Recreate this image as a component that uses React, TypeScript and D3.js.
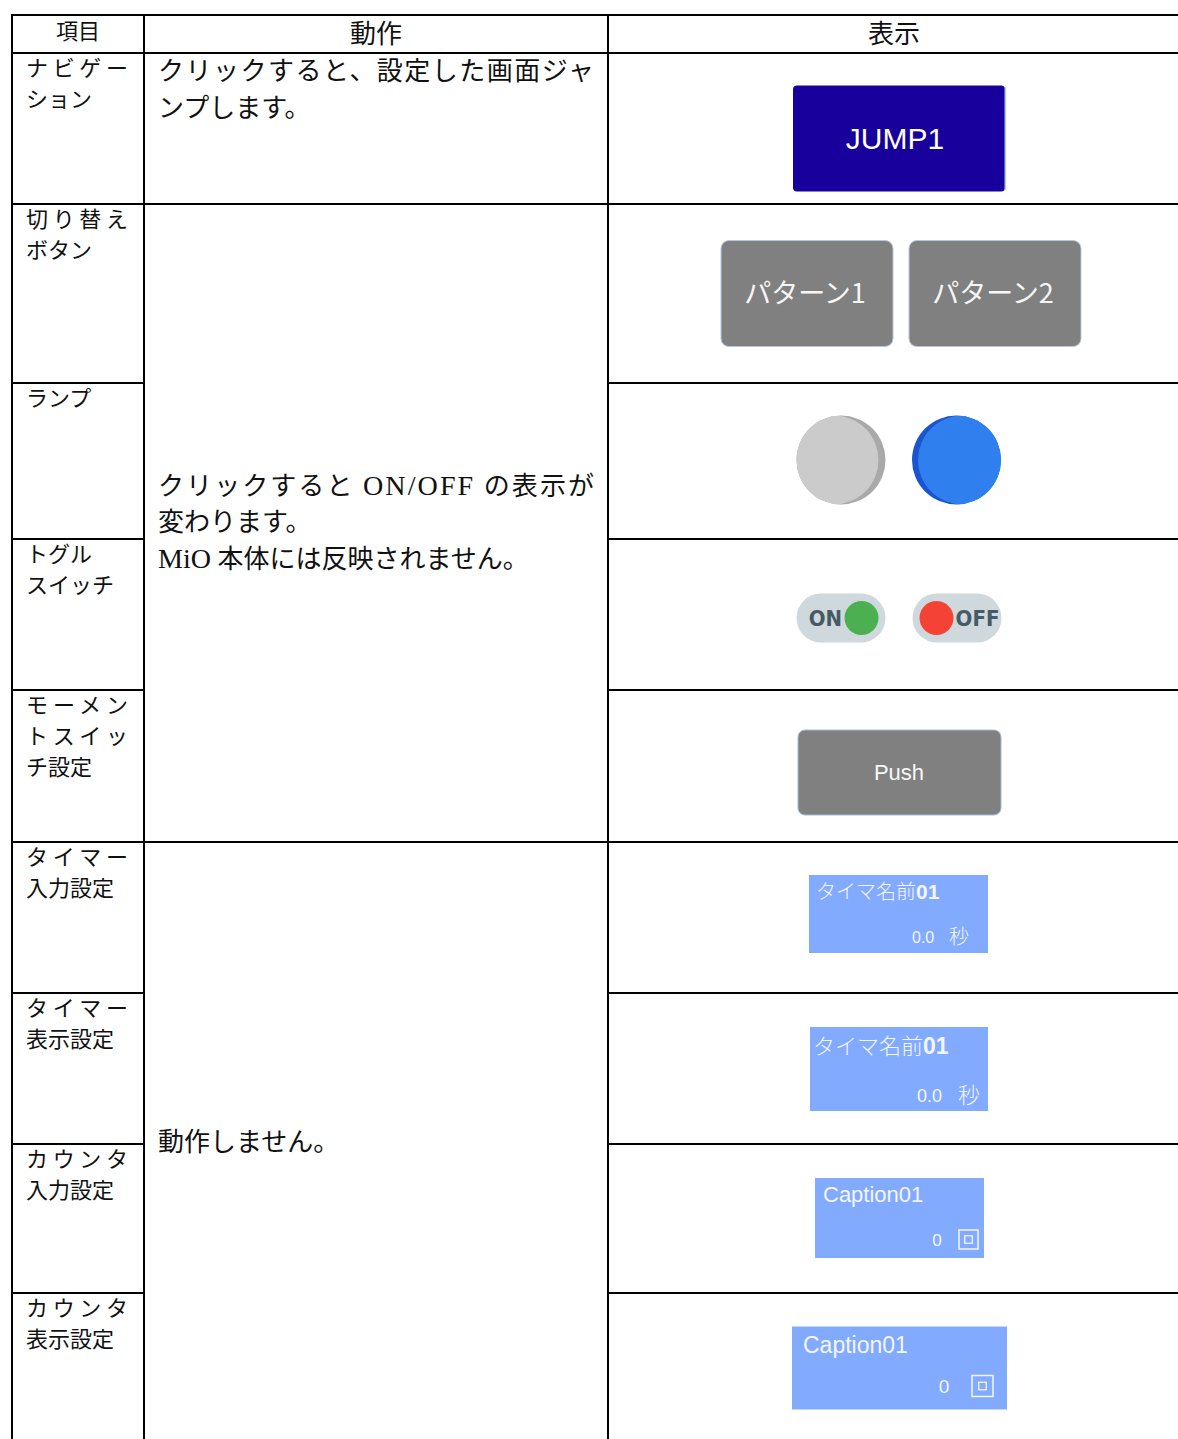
import React from "react";
import * as d3 from "d3";

// table content
const HEADERS = ["項目", "動作", "表示"];

const ITEM_LINES = [
  ["ナビゲー", "ション"],
  ["切り替え", "ボタン"],
  ["ランプ"],
  ["トグル", "スイッチ"],
  ["モーメン", "トスイッ", "チ設定"],
  ["タイマー", "入力設定"],
  ["タイマー", "表示設定"],
  ["カウンタ", "入力設定"],
  ["カウンタ", "表示設定"],
];
// lines that Word spread over the whole cell width
const ITEM_SPREAD = [
  [true, false],
  [true, false],
  [false],
  [false, false],
  [true, true, false],
  [true, false],
  [true, false],
  [true, false],
  [true, false],
];

const ACTION_GROUPS = [
  { from: 0, to: 1, valign: "top", lines: ["クリックすると、設定した画面ジャ", "ンプします。"], spread: [true, false] },
  {
    from: 1,
    to: 5,
    valign: "middle",
    lines: ["クリックすると ON/OFF の表示が", "変わります。", "MiO 本体には反映されません。"],
    spread: [true, false, false],
  },
  { from: 5, to: 9, valign: "middle", lines: ["動作しません。"], spread: [false] },
];

const WIDGET_KINDS = ["jump", "switch", "lamp", "toggle", "push", "timerIn", "timerOut", "counterIn", "counterOut"];
const SWITCH_LABELS = ["パターン1", "パターン2"];
const TIMER_NAME = "タイマ名前";
const TIMER_NO = "01";
const TIMER_VALUE = "0.0";
const TIMER_UNIT = "秒";
const COUNTER_CAPTION = "Caption01";
const COUNTER_VALUE = "0";

// layout
const W = 1178;
const H = 1439;
const COL_EDGES = [12, 144, 608, 1180];
const HEADER_TOP = 15;
const ROW_HEIGHTS = [38, 151, 179, 156, 151, 152, 151, 151, 149, 151];

const JP = "'Liberation Serif', 'Noto Sans CJK JP', serif";
const SANS = "'Liberation Sans', Arial, 'Noto Sans CJK JP', sans-serif";
const CJK_SANS = "'Noto Sans CJK JP', 'Liberation Sans', sans-serif";

const edges = Array.from(d3.cumsum([HEADER_TOP, ...ROW_HEIGHTS]));
const headerBottom = edges[1];
const rowEdges = edges.slice(1); // top of body rows + bottom of last one
const bands = d3.pairs(rowEdges);

const midCol = new Set<number>();
ACTION_GROUPS.forEach((g) => d3.range(g.from + 1, g.to).forEach((i) => midCol.add(i)));

const BLUE_BOX = "#82aaff";
const BOX_TEXT = "#f3f6ff";

function Widget({ kind, cx, cy }: { kind: string; cx: number; cy: number }) {
  if (kind === "jump") {
    const w = 212, h = 106, y = cy + 10;
    return (
      <g>
        <rect x={cx - w / 2} y={y - h / 2} width={w} height={h} rx={4} fill="#17009c" />
        <line x1={cx + w / 2} x2={cx + w / 2} y1={y - h / 2 + 2} y2={y + h / 2 - 2} stroke="#7fa6ff" strokeWidth={1.2} />
        <text x={cx - 4} y={y} dy="0.36em" textAnchor="middle" fontFamily={SANS} fontSize={30} fill="#ffffff">
          JUMP1
        </text>
      </g>
    );
  }
  if (kind === "switch") {
    const w = 172, h = 106, gap = 16;
    const xs = d3.range(SWITCH_LABELS.length).map((i) => cx + 2 - (w * 2 + gap) / 2 + i * (w + gap));
    return (
      <g>
        {SWITCH_LABELS.map((lab, i) => (
          <g key={lab}>
            <rect x={xs[i]} y={cy - h / 2} width={w} height={h} rx={8} fill="#808080" stroke="#b9c6dd" strokeWidth={1} />
            <text
              x={xs[i] + w / 2 - 2}
              y={cy}
              dy="0.36em"
              textAnchor="middle"
              fontFamily={CJK_SANS}
              fontSize={27}
              fill="#f6f6f6"
            >
              {lab}
            </text>
          </g>
        ))}
      </g>
    );
  }
  if (kind === "lamp") {
    const r = 44.5, y = cy - 1;
    return (
      <g>
        <defs>
          <clipPath id="lampA">
            <circle cx={cx - 58} cy={y} r={r} />
          </clipPath>
          <clipPath id="lampB">
            <circle cx={cx + 57.5} cy={y} r={r} />
          </clipPath>
        </defs>
        <circle cx={cx - 58} cy={y} r={r} fill="#a9a9a9" />
        <circle cx={cx - 65} cy={y} r={r} fill="#cbcbcb" clipPath="url(#lampA)" />
        <circle cx={cx + 57.5} cy={y} r={r} fill="#1a55cf" />
        <circle cx={cx + 63.5} cy={y} r={r} fill="#2f7fef" clipPath="url(#lampB)" />
      </g>
    );
  }
  if (kind === "toggle") {
    const w = 89, h = 49, y = cy + 3.5;
    const onX = cx - 58 - w / 2, offX = cx + 58 - w / 2;
    const lbl = { fontFamily: "'DejaVu Sans Condensed', 'DejaVu Sans', sans-serif", fontWeight: 700, fontSize: 22, fill: "#455a64" };
    return (
      <g>
        <rect x={onX} y={y - h / 2} width={w} height={h} rx={h / 2} fill="#cfd8dc" />
        <circle cx={onX + w - 24} cy={y} r={17} fill="#4caf50" />
        <text x={onX + 29} y={y} dy="0.36em" textAnchor="middle" {...lbl}>
          ON
        </text>
        <rect x={offX} y={y - h / 2} width={w} height={h} rx={h / 2} fill="#cfd8dc" />
        <circle cx={offX + 24} cy={y} r={17} fill="#f44336" />
        <text x={offX + 65} y={y} dy="0.36em" textAnchor="middle" {...lbl}>
          OFF
        </text>
      </g>
    );
  }
  if (kind === "push") {
    const w = 203, h = 85, y = cy + 6.5;
    return (
      <g>
        <rect x={cx + 0.5 - w / 2} y={y - h / 2} width={w} height={h} rx={7} fill="#808080" stroke="#a7b8dc" strokeWidth={1} />
        <text x={cx} y={y} dy="0.36em" textAnchor="middle" fontFamily={SANS} fontSize={22} fill="#f8f8f8">
          Push
        </text>
      </g>
    );
  }
  if (kind === "timerIn" || kind === "timerOut") {
    const big = kind === "timerOut";
    const w = big ? 178 : 179, h = big ? 84 : 78;
    const x0 = cx - w / 2 + (big ? 0 : -0.5), y0 = cy - h / 2 + (big ? 0.5 : -3.5);
    const nameSize = big ? 22 : 20;
    return (
      <g>
        <rect x={x0} y={y0} width={w} height={h} fill={BLUE_BOX} />
        <text x={x0 + (big ? 3 : 7)} y={y0 + (big ? 27 : 24)} fontFamily={CJK_SANS} fontWeight={300} fontSize={nameSize} fill={BOX_TEXT}>
          {TIMER_NAME}
          <tspan fontFamily={SANS} fontWeight={700} fontSize={nameSize + 1}>
            {TIMER_NO}
          </tspan>
        </text>
        <text x={x0 + (big ? 107 : 103)} y={y0 + (big ? 75 : 68)} fontFamily={SANS} fontSize={big ? 18 : 16} fill={BOX_TEXT}>
          {TIMER_VALUE}
        </text>
        <text x={x0 + (big ? 148 : 140)} y={y0 + (big ? 76 : 69)} fontFamily={CJK_SANS} fontWeight={300} fontSize={big ? 22 : 20} fill={BOX_TEXT}>
          {TIMER_UNIT}
        </text>
      </g>
    );
  }
  // counters
  const big = kind === "counterOut";
  const w = big ? 215 : 169, h = big ? 83 : 80;
  const x0 = cx + 0.5 - w / 2, y0 = cy - h / 2 - 0.5;
  const sq = big ? 21 : 19;
  const sqX = x0 + w - (big ? 35 : 25), sqY = y0 + (big ? 49 : 52);
  const inner = 7.5;
  return (
    <g>
      <rect x={x0} y={y0} width={w} height={h} fill={BLUE_BOX} />
      <text x={x0 + (big ? 11 : 8)} y={y0 + (big ? 26 : 24)} fontFamily={SANS} fontSize={big ? 23 : 22} fill={BOX_TEXT}>
        {COUNTER_CAPTION}
      </text>
      <text x={x0 + (big ? 152 : 122)} y={y0 + (big ? 66 : 68)} textAnchor="middle" fontFamily={SANS} fontSize={big ? 19 : 17} fill={BOX_TEXT}>
        {COUNTER_VALUE}
      </text>
      <rect x={sqX} y={sqY} width={sq} height={sq} fill="none" stroke={BOX_TEXT} strokeWidth={1.5} />
      <rect x={sqX + (sq - inner) / 2} y={sqY + (sq - inner) / 2} width={inner} height={inner} fill="none" stroke={BOX_TEXT} strokeWidth={1.3} />
    </g>
  );
}

// latin runs are set a little larger, like the Century face of the original
function runs(t: string, size: number) {
  return t.split(/([A-Za-z/]+)/).map((part, i) =>
    /[A-Za-z]/.test(part) ? (
      <tspan key={i} fontSize={size * 1.08}>
        {part}
      </tspan>
    ) : (
      part
    )
  );
}

function Lines({
  lines,
  spread,
  x,
  width,
  y0,
  step,
  size,
}: {
  lines: string[];
  spread: boolean[];
  x: number;
  width: number;
  y0: number;
  step: number;
  size: number;
}) {
  return (
    <g>
      {lines.map((t, i) => (
        <text
          key={i}
          x={x}
          y={y0 + i * step}
          dy="0.36em"
          fontFamily={JP}
          fontSize={size}
          fill="#111"
          textLength={spread[i] ? width : undefined}
          lengthAdjust="spacing"
        >
          {runs(t, size)}
        </text>
      ))}
    </g>
  );
}

export default function App() {
  const [c0, c1, c2, c3] = COL_EDGES;
  const lineStyle = { stroke: "#000", strokeWidth: 2 };
  const widgetCx = 899;
  const headMid = (HEADER_TOP + headerBottom) / 2;
  return (
    <svg width={W} height={H} style={{ position: "absolute", left: 0, top: 0, background: "#fff" }}>
      <rect width={W} height={H} fill="#fff" />

      {/* header */}
      <text x={(c0 + c1) / 2} y={headMid - 3} dy="0.36em" textAnchor="middle" fontFamily={JP} fontSize={22} fill="#111">
        {HEADERS[0]}
      </text>
      <text x={(c1 + c2) / 2} y={headMid} dy="0.36em" textAnchor="middle" fontFamily={JP} fontSize={26} fill="#111">
        {HEADERS[1]}
      </text>
      <text x={(c2 + c3) / 2} y={headMid} dy="0.36em" textAnchor="middle" fontFamily={JP} fontSize={26} fill="#111">
        {HEADERS[2]}
      </text>

      {/* item column */}
      {bands.map(([top], i) => (
        <Lines key={i} lines={ITEM_LINES[i]} spread={ITEM_SPREAD[i]} x={26} width={102} y0={top + 15.5} step={31} size={22} />
      ))}

      {/* action column */}
      {ACTION_GROUPS.map((g, i) => {
        const top = rowEdges[g.from];
        const bottom = rowEdges[g.to];
        const step = 36.5;
        const y0 = g.valign === "top" ? top + 18 : (top + bottom) / 2 - ((g.lines.length - 1) * step) / 2 - 1;
        return <Lines key={i} lines={g.lines} spread={g.spread} x={158} width={436} y0={y0} step={step} size={26} />;
      })}

      {/* display column */}
      {bands.map(([top, bottom], i) => (
        <Widget key={i} kind={WIDGET_KINDS[i]} cx={widgetCx} cy={(top + bottom) / 2} />
      ))}

      {/* grid */}
      <line x1={c0} x2={c3} y1={HEADER_TOP} y2={HEADER_TOP} {...lineStyle} />
      <line x1={c0} x2={c3} y1={headerBottom} y2={headerBottom} {...lineStyle} />
      {rowEdges.slice(1, -1).map((y, i) =>
        midCol.has(i + 1) ? (
          <g key={i}>
            <line x1={c0} x2={c1} y1={y} y2={y} {...lineStyle} />
            <line x1={c2} x2={c3} y1={y} y2={y} {...lineStyle} />
          </g>
        ) : (
          <line key={i} x1={c0} x2={c3} y1={y} y2={y} {...lineStyle} />
        )
      )}
      {COL_EDGES.map((x) => (
        <line key={x} x1={x} x2={x} y1={HEADER_TOP - 1} y2={H + 10} {...lineStyle} />
      ))}
    </svg>
  );
}
